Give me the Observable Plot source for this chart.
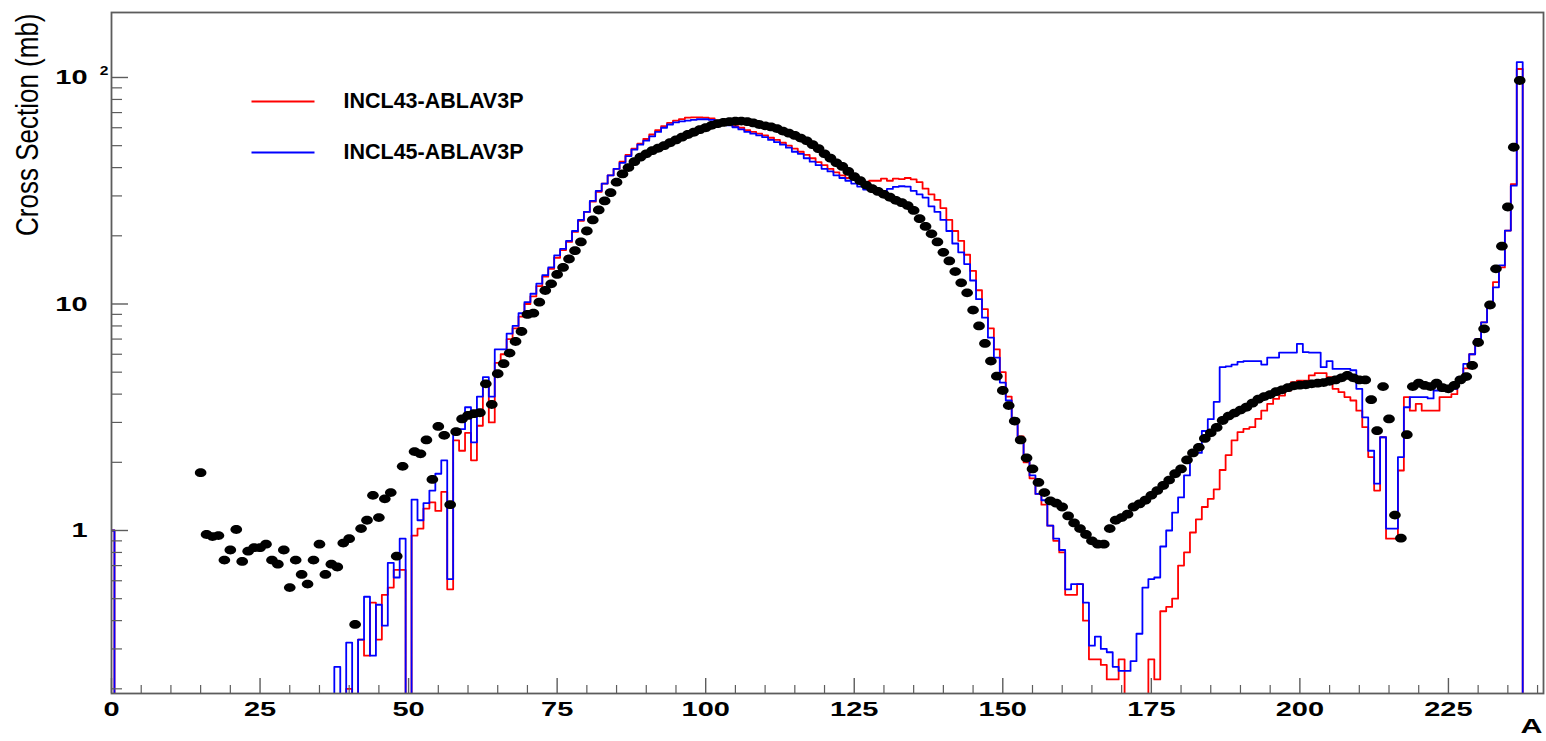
<!DOCTYPE html>
<html><head><meta charset="utf-8">
<script src="https://cdn.jsdelivr.net/npm/d3@7"></script>
<script src="https://cdn.jsdelivr.net/npm/@observablehq/plot@0.6"></script>
<style>
html,body{margin:0;padding:0;background:#fff;}
#wrap{position:relative;width:1546px;height:741px;}
</style></head><body><div id="wrap"></div>
<script>
// ---------------- data (cross section in mb vs mass number A) ----------------
const expStartA = 15;
const expValues = [
  1.80, 0.96, 0.94, 0.95, 0.74,                                   // 15-19
  0.82, 1.01, 0.73, 0.81, 0.84, 0.84, 0.87, 0.74, 0.71, 0.82,     // 20-29
  0.56, 0.74, 0.64, 0.58, 0.74, 0.87, 0.64, 0.71, 0.69, 0.88,     // 30-39
  0.92, 0.385, 1.02, 1.11, 1.43, 1.14, 1.38, 1.47, 0.77, 1.92,    // 40-49
  null, 2.23, 2.18, 2.51, 1.68, 2.88, 2.63, 1.30, 2.73, 3.11,     // 50-59
  3.22, 3.28, 3.31, 4.44, 3.60, 4.92, 5.45, 6.07, 6.83, 7.56,     // 60-69
  8.99, 9.11, 10.19, 11.47, 12.28, 13.5, 14.5, 15.8, 17.2, 18.8,  // 70-79
  21.0, 23.5, 26.0, 28.5, 31.0, 34.5, 37.5, 40.0, 42.5, 44.5,     // 80-89
  46.0, 47.5, 48.7, 50.0, 51.5, 53.0, 54.5, 56.0, 57.3, 58.8,     // 90-99
  60.0, 61.5, 62.5, 63.3, 63.8, 64.1, 64.2, 63.8, 63.0, 62.0,     // 100-109
  61.2, 60.5, 59.5, 58.0, 56.8, 55.5, 54.0, 52.5, 50.5, 48.5,     // 110-119
  46.0, 44.0, 42.0, 40.5, 38.5, 36.5, 35.0, 33.5, 32.3, 31.4,     // 120-129
  30.5, 29.6, 28.7, 28.0, 27.2, 25.9, 23.8, 22.0, 20.4, 18.8,     // 130-139
  16.9, 15.5, 13.9, 12.4, 11.2, 9.4, 8.0, 6.7, 5.6, 4.8,          // 140-149
  4.15, 3.56, 3.04, 2.51, 2.09, 1.87, 1.63, 1.47, 1.35, 1.32,     // 150-159
  1.27, 1.16, 1.08, 1.02, 0.96, 0.90, 0.87, 0.87, 1.02, 1.11,     // 160-169
  1.14, 1.18, 1.27, 1.31, 1.36, 1.43, 1.50, 1.58, 1.67, 1.78,     // 170-179
  1.87, 2.05, 2.2, 2.33, 2.55, 2.70, 2.85, 3.06, 3.2, 3.30,       // 180-189
  3.40, 3.5, 3.65, 3.80, 3.90, 3.98, 4.1, 4.18, 4.27, 4.35,       // 190-199
  4.38, 4.40, 4.44, 4.47, 4.50, 4.56, 4.62, 4.72, 4.84, 4.72,     // 200-209
  4.62, 4.62, 3.78, 2.76, 4.32, 3.11, 1.17, 0.925, 2.65, 4.32,    // 210-219
  4.47, 4.37, 4.32, 4.47, 4.27, 4.22, 4.37, 4.62, 4.78, 5.35,     // 220-229
  6.76, 7.77, 9.9, 14.3, 18.0, 26.8, 49.2, 97                     // 230-237
];

const histStartA = 0;
const incl43Values = [
  1.0, 0, 0, 0, 0, 0, 0, 0, 0, 0,                                 // 0-9
  0, 0, 0, 0, 0, 0, 0, 0, 0, 0,                                   // 10-19
  0, 0, 0, 0, 0, 0, 0, 0, 0, 0,                                   // 20-29
  0, 0, 0, 0, 0, 0, 0, 0, 0, 0,                                   // 30-39
  0.20, 0, 0.33, 0.28, 0.48, 0.33, 0.52, 0.56, 0.67, 0.67,        // 40-49
  0, 0.95, 1.02, 1.25, 1.33, 1.22, 1.48, 0.55, 2.5, 2.25,         // 50-59
  2.7, 2.04, 2.9, 4.4, 3.0, 5.5, 6.0, 7.0, 7.8, 8.8,              // 60-69
  10.0, 10.8, 12.0, 13.2, 14.3, 16.0, 17.3, 18.8, 20.8, 23.3,     // 70-79
  25.5, 28.3, 31.3, 34, 37, 39.5, 42.5, 45.5, 48.5, 51,           // 80-89
  53.5, 56, 58.5, 61, 63, 64.5, 65.5, 66.5, 66.6, 66.6,           // 90-99
  66.5, 66, 64.5, 63, 62, 61, 60, 58.5, 57.5, 56.5,               // 100-109
  55.5, 54.2, 53, 51.5, 50, 48.5, 47, 45.5, 44, 42.3,             // 110-119
  41, 39.5, 38.1, 37, 36, 35.5, 35, 34.5, 35, 35,                 // 120-129
  35.8, 35.0, 35.8, 35.6, 36.0, 35.5, 34.5, 32.3, 30.5, 28.8,     // 130-139
  26.5, 23.5, 21.0, 19.0, 16.5, 14.0, 11.5, 9.5, 7.8, 6.3,        // 140-149
  5.0, 3.9, 3.1, 2.6, 2.0, 1.7, 1.45, 1.30, 1.05, 0.90,           // 150-159
  0.80, 0.52, 0.52, 0.58, 0.40, 0.27, 0.27, 0.255, 0.22, 0.22,    // 160-169
  0.27, 0, 0, 0, 0, 0.27, 0.22, 0.44, 0.46, 0.50,                 // 170-179
  0.70, 0.80, 0.98, 1.12, 1.27, 1.38, 1.52, 1.85, 2.15, 2.5,      // 180-189
  2.72, 2.81, 2.86, 3.11, 3.38, 3.62, 3.81, 3.94, 4.15, 4.52,     // 190-199
  4.59, 4.59, 4.84, 4.95, 4.95, 4.75, 4.22, 4.08, 3.88, 3.75,     // 200-209
  3.38, 2.86, 2.11, 1.50, 2.58, 0.92, 0.92, 1.84, 3.88, 3.38,     // 210-219
  3.62, 3.38, 3.38, 3.38, 3.88, 3.88, 4.0, 4.67, 5.2, 6.0,        // 220-229
  7.0, 8.3, 10.0, 12.5, 14.5, 21.1, 33.8, 109, 0, 0,              // 230-239
  0                                                               // 240
];
const incl45Values = [
  1.0, 0, 0, 0, 0, 0, 0, 0, 0, 0,                                 // 0-9
  0, 0, 0, 0, 0, 0, 0, 0, 0, 0,                                   // 10-19
  0, 0, 0, 0, 0, 0, 0, 0, 0, 0,                                   // 20-29
  0, 0, 0, 0, 0, 0, 0, 0, 0.25, 0,                                // 30-39
  0.32, 0, 0.33, 0.51, 0.28, 0.47, 0.38, 0.72, 0.62, 0.92,        // 40-49
  0, 1.37, 1.11, 1.32, 1.5, 1.78, 2.04, 0.61, 2.67, 2.8,          // 50-59
  3.5, 2.45, 3.9, 4.75, 3.9, 6.3, 6.3, 7.4, 8.0, 9.1,             // 60-69
  10.2, 11.1, 12.3, 13.4, 14.5, 16.4, 17.5, 19.0, 21.0, 23.5,     // 70-79
  25.5, 28.5, 31.6, 34, 37, 39.5, 42, 45, 48, 50.5,               // 80-89
  52.6, 55, 57.5, 60, 62, 63.3, 64, 64.5, 65, 65.4,               // 90-99
  65.4, 65, 64, 62.5, 61.5, 60.3, 59, 57.5, 56.5, 55.5,           // 100-109
  54.5, 53, 51.8, 50.5, 49, 47, 46, 44, 42.5, 41,                 // 110-119
  39.5, 38.5, 37, 36, 35, 34, 33, 32, 31.5, 31.1,                 // 120-129
  31.5, 32.2, 32.9, 33.1, 33.0, 31.6, 30.5, 29.5, 27, 25.5,       // 130-139
  23.5, 21, 18.5, 16.9, 15.0, 12.7, 10.5, 8.7, 7.1, 5.8,          // 140-149
  4.5, 3.75, 3.0, 2.5, 2.05, 1.75, 1.45, 1.36, 1.05, 0.92,        // 150-159
  0.82, 0.55, 0.58, 0.58, 0.48, 0.31, 0.34, 0.30, 0.29, 0.25,     // 160-169
  0.24, 0.24, 0.265, 0.35, 0.56, 0.61, 0.62, 0.85, 1.0, 1.2,      // 170-179
  1.4, 1.75, 2.2, 2.2, 2.75, 3.1, 3.7, 5.26, 5.3, 5.4,            // 180-189
  5.55, 5.6, 5.6, 5.6, 5.4, 5.8, 5.8, 6.1, 6.1, 6.1,              // 190-199
  6.67, 6.13, 6.1, 6.1, 5.26, 5.6, 5.17, 5.17, 5.17, 5.1,         // 200-209
  4.22, 3.16, 2.25, 1.61, 2.58, 1.02, 1.02, 2.11, 3.5, 3.88,      // 210-219
  3.88, 3.88, 3.83, 4.15, 4.15, 4.22, 4.22, 4.75, 5.44, 6.0,      // 220-229
  7.0, 8.3, 9.8, 11.85, 14.8, 21.1, 33.3, 117, 0, 0,              // 230-239
  0                                                               // 240
];

const seriesNames = ["INCL43-ABLAV3P", "INCL45-ABLAV3P"];
const seriesColors = ["#ff0000", "#0000ff"];

const xTicksMajor = [0, 25, 50, 75, 100, 125, 150, 175, 200, 225];
const xTicksMinor = [5,10,15,20,30,35,40,45,55,60,65,70,80,85,90,95,105,110,115,120,130,135,140,145,155,160,165,170,180,185,190,195,205,210,215,220,230,235,240];
const yTicksMajor = [1, 10, 100];
const yTickLabels = ["1", "10", "10"];
const yTicksMinor = [0.2,0.3,0.4,0.5,0.6,0.7,0.8,0.9,2,3,4,5,6,7,8,9,20,30,40,50,60,70,80,90];
const xTitle = "A";
const yTitle = "Cross Section (mb)";

// ---------------- build ----------------
const W = 1546, H = 741;
const mL = 111, mR = 3, mT = 12, mB = 48;
const plotW = W - mL - mR, plotH = H - mT - mB;
const FLOOR = 0.05; // empty bins are drawn below the visible range (clipped)

function steps(values, start) {
  const pts = values.map((v, i) => ({x: start + i - 0.5, v}));
  pts.push({x: start + values.length - 0.5, v: values[values.length - 1]});
  return pts;
}
const redSteps = steps(incl43Values, histStartA);
const blueSteps = steps(incl45Values, histStartA);
const expData = expValues.map((v, i) => ({A: expStartA + i, v})).filter(d => d.v != null);

const ellipse = {
  draw(ctx, size) {
    const r = Math.sqrt(size / Math.PI);
    const rx = r * 1.32, ry = r, k = 0.5523;
    ctx.moveTo(rx, 0);
    ctx.bezierCurveTo(rx, k * ry, k * rx, ry, 0, ry);
    ctx.bezierCurveTo(-k * rx, ry, -rx, k * ry, -rx, 0);
    ctx.bezierCurveTo(-rx, -k * ry, -k * rx, -ry, 0, -ry);
    ctx.bezierCurveTo(k * rx, -ry, rx, -k * ry, rx, 0);
    ctx.closePath();
  }
};

const font = "'Liberation Sans', Arial, Helvetica, sans-serif";
const axisGray = "#5c5c5c";

const chart = Plot.plot({
  width: W, height: H,
  marginLeft: mL, marginRight: mR, marginTop: mT, marginBottom: mB,
  x: {type: "linear", domain: [0, 241], axis: null},
  y: {type: "log", domain: [0.1907, 193.6], axis: null},
  style: {fontFamily: font, background: "white", color: "black", overflow: "visible"},
  marks: [
    Plot.line(redSteps, {x: "x", y: d => Math.max(d.v, FLOOR), curve: "step-after", stroke: seriesColors[0], strokeWidth: 1.8, clip: true}),
    Plot.line(blueSteps, {x: "x", y: d => Math.max(d.v, FLOOR), curve: "step-after", stroke: seriesColors[1], strokeWidth: 1.8, clip: true}),
    Plot.dot(expData, {x: "A", y: "v", r: 4.4, symbol: ellipse, fill: "black", stroke: "none"}),
    // ticks drawn inside the frame (ROOT style)
    Plot.ruleX(xTicksMajor, {x: d => d, insetTop: plotH - 15, stroke: axisGray, strokeWidth: 1.4}),
    Plot.ruleX(xTicksMinor, {x: d => d, insetTop: plotH - 8, stroke: axisGray, strokeWidth: 1.2}),
    Plot.ruleY(yTicksMajor, {y: d => d, insetRight: plotW - 17, stroke: axisGray, strokeWidth: 1.4}),
    Plot.ruleY(yTicksMinor, {y: d => d, insetRight: plotW - 11, stroke: axisGray, strokeWidth: 1.2}),
    Plot.frame({stroke: axisGray, strokeWidth: 1.8}),
    // tick labels  (text group 0, 1, 2)
    Plot.text(xTicksMajor, {x: d => d, frameAnchor: "bottom", dy: 16, lineAnchor: "middle", text: d => String(d), fontSize: 21, fontWeight: "bold"}),
    Plot.text(yTicksMajor, {y: d => d, frameAnchor: "left", dx: -24, textAnchor: "end", lineAnchor: "middle", text: (d, i) => yTickLabels[i], fontSize: 21, fontWeight: "bold"}),
    Plot.text([yTicksMajor[2]], {y: d => d, frameAnchor: "left", dx: -7.5, dy: -6.5, textAnchor: "middle", lineAnchor: "middle", text: () => "2", fontSize: 13, fontWeight: "bold"}),
    // axis titles  (text group 3, 4)
    Plot.text([xTitle], {frameAnchor: "bottom-right", dx: -1, dy: 33, textAnchor: "end", lineAnchor: "middle", text: d => d, fontSize: 21, fontWeight: "bold"}),
    Plot.text([yTitle], {frameAnchor: "top-left", dx: -83.5, dy: 1, rotate: -90, textAnchor: "end", lineAnchor: "middle", text: d => d, fontSize: 26}),
    // legend
    Plot.frame({anchor: "top", insetTop: 101 - mT, insetLeft: 252 - mL, insetRight: plotW - (313 - mL), stroke: seriesColors[0], strokeWidth: 2}),
    Plot.frame({anchor: "top", insetTop: 152 - mT, insetLeft: 252 - mL, insetRight: plotW - (313 - mL), stroke: seriesColors[1], strokeWidth: 2}),
    Plot.text([seriesNames[0]], {frameAnchor: "top-left", dx: 343 - mL, dy: 101 - mT, textAnchor: "start", lineAnchor: "middle", text: d => d, fontSize: 21.5, fontWeight: "bold"}),
    Plot.text([seriesNames[1]], {frameAnchor: "top-left", dx: 343 - mL, dy: 152 - mT, textAnchor: "start", lineAnchor: "middle", text: d => d, fontSize: 21.5, fontWeight: "bold"})
  ]
});

// horizontally stretch some labels (the reference's axis fonts are drawn wide)
const textGroups = chart.querySelectorAll('g[aria-label="text"]');
function stretch(idx, s) {
  const g = textGroups[idx];
  if (!g) return;
  g.querySelectorAll("text").forEach(t => {
    let tr = t.getAttribute("transform");
    if (!tr) {
      const x = +t.getAttribute("x") || 0, y = +t.getAttribute("y") || 0;
      t.removeAttribute("x"); t.removeAttribute("y");
      tr = `translate(${x},${y})`;
    }
    const m = tr.match(/^\s*translate\([^)]*\)/);
    if (m) t.setAttribute("transform", m[0] + ` scale(${s},1)` + tr.slice(m[0].length));
    else t.setAttribute("transform", `scale(${s},1) ` + tr);
  });
}
stretch(0, 1.38);  // x tick labels
stretch(1, 1.38);  // y tick labels
stretch(2, 1.2);   // exponent
stretch(3, 1.45);  // "A"
stretch(4, 1.2);   // y title

document.getElementById("wrap").appendChild(chart);
</script></body></html>
